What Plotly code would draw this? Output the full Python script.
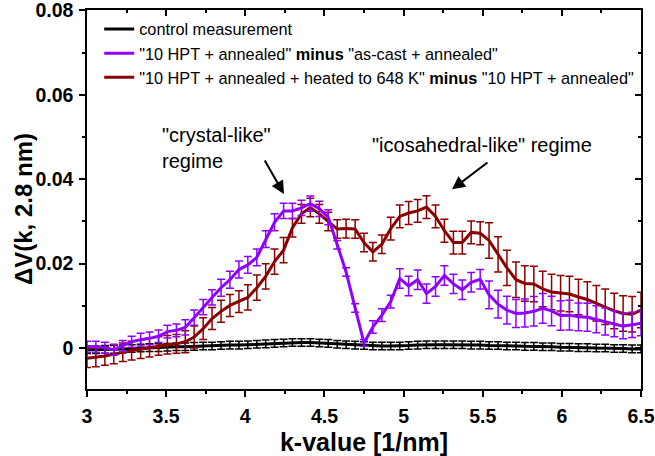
import plotly.graph_objects as go

k_values = [3.000, 3.056, 3.113, 3.169, 3.226, 3.282, 3.339, 3.395, 3.452, 3.508,
            3.565, 3.621, 3.677, 3.734, 3.790, 3.847, 3.903, 3.960, 4.016, 4.073,
            4.129, 4.185, 4.242, 4.298, 4.355, 4.411, 4.468, 4.524, 4.581, 4.637,
            4.694, 4.750, 4.806, 4.863, 4.919, 4.976, 5.032, 5.089, 5.145, 5.202,
            5.258, 5.315, 5.371, 5.427, 5.484, 5.540, 5.597, 5.653, 5.710, 5.766,
            5.823, 5.879, 5.935, 5.992, 6.048, 6.105, 6.161, 6.218, 6.274, 6.331,
            6.387, 6.444, 6.500]

control = [-0.0004, -0.0004, -0.0003, -0.0003, -0.0002, -0.0001, 0.0000, 0.0001, 0.0001, 0.0002,
           0.0003, 0.0003, 0.0004, 0.0005, 0.0005, 0.0006, 0.0007, 0.0007, 0.0008, 0.0009,
           0.0010, 0.0011, 0.0012, 0.0013, 0.0013, 0.0013, 0.0012, 0.0011, 0.0009, 0.0008,
           0.0007, 0.0006, 0.0005, 0.0005, 0.0005, 0.0005, 0.0006, 0.0007, 0.0008, 0.0008,
           0.0008, 0.0008, 0.0008, 0.0007, 0.0007, 0.0006, 0.0006, 0.0005, 0.0005, 0.0004,
           0.0004, 0.0003, 0.0003, 0.0002, 0.0002, 0.0001, 0.0001, 0.0000, 0.0000, -0.0001,
           -0.0001, -0.0002, -0.0002]
control_err = [0.0009] * 63

hpt_minus_cast = [0.0003, 0.0003, 0.0001, -0.0004, 0.0005, 0.0015, 0.0020, 0.0023, 0.0028, 0.0039,
                  0.0042, 0.0049, 0.0072, 0.0097, 0.0120, 0.0143, 0.0162, 0.0186, 0.0197, 0.0215,
                  0.0258, 0.0298, 0.0325, 0.0325, 0.0332, 0.0342, 0.0330, 0.0310, 0.0245, 0.0180,
                  0.0095, 0.0012, 0.0050, 0.0078, 0.0110, 0.0165, 0.0147, 0.0162, 0.0129, 0.0146,
                  0.0172, 0.0152, 0.0138, 0.0156, 0.0163, 0.0126, 0.0104, 0.0090, 0.0082, 0.0083,
                  0.0087, 0.0094, 0.0088, 0.0077, 0.0078, 0.0074, 0.0073, 0.0068, 0.0063, 0.0058,
                  0.0052, 0.0055, 0.0059]
hpt_minus_cast_err = [0.0013, 0.0013, 0.0013, 0.0013, 0.0013, 0.0013, 0.0015, 0.0015, 0.0015, 0.0015,
                      0.0015, 0.0018, 0.0018, 0.0018, 0.0018, 0.0020, 0.0020, 0.0020, 0.0020, 0.0020,
                      0.0020, 0.0020, 0.0018, 0.0018, 0.0018, 0.0018, 0.0018, 0.0018, 0.0010, 0.0010,
                      0.0010, 0.0008, 0.0015, 0.0015, 0.0015, 0.0023, 0.0023, 0.0023, 0.0023, 0.0023,
                      0.0023, 0.0023, 0.0023, 0.0023, 0.0023, 0.0033, 0.0033, 0.0033, 0.0033, 0.0033,
                      0.0035, 0.0035, 0.0035, 0.0035, 0.0035, 0.0033, 0.0033, 0.0032, 0.0032, 0.0031,
                      0.0030, 0.0030, 0.0030]

heated_minus_hpt = [-0.0024, -0.0022, -0.0019, -0.0015, -0.0010, -0.0006, -0.0003, 0.0001, 0.0005, 0.0008,
                    0.0010, 0.0015, 0.0026, 0.0046, 0.0070, 0.0087, 0.0101, 0.0110, 0.0120, 0.0143,
                    0.0170, 0.0205, 0.0232, 0.0285, 0.0318, 0.0333, 0.0318, 0.0300, 0.0282, 0.0283,
                    0.0282, 0.0250, 0.0228, 0.0246, 0.0283, 0.0312, 0.0320, 0.0325, 0.0334, 0.0312,
                    0.0278, 0.0250, 0.0250, 0.0274, 0.0272, 0.0255, 0.0222, 0.0190, 0.0162, 0.0153,
                    0.0152, 0.0140, 0.0133, 0.0130, 0.0128, 0.0121, 0.0115, 0.0106, 0.0098, 0.0088,
                    0.0082, 0.0080, 0.0090]
heated_minus_hpt_err = [0.0022, 0.0022, 0.0022, 0.0022, 0.0022, 0.0022, 0.0022, 0.0022, 0.0022, 0.0022,
                        0.0022, 0.0026, 0.0026, 0.0026, 0.0026, 0.0026, 0.0026, 0.0026, 0.0030, 0.0030,
                        0.0030, 0.0030, 0.0030, 0.0022, 0.0022, 0.0022, 0.0022, 0.0022, 0.0022, 0.0022,
                        0.0022, 0.0022, 0.0022, 0.0022, 0.0027, 0.0027, 0.0027, 0.0027, 0.0027, 0.0027,
                        0.0027, 0.0027, 0.0027, 0.0027, 0.0027, 0.0042, 0.0042, 0.0042, 0.0042, 0.0042,
                        0.0042, 0.0042, 0.0042, 0.0042, 0.0042, 0.0042, 0.0042, 0.0042, 0.0042, 0.0042,
                        0.0042, 0.0042, 0.0042]

names = ["control measurement",
         '"10 HPT + annealed" <b>minus</b> "as-cast + annealed"',
         '"10 HPT + annealed + heated to 648 K" <b>minus</b> "10 HPT + annealed"']

y_tickvals = [0, 0.02, 0.04, 0.06, 0.08]
y_ticktext = ["0", "0.02", "0.04", "0.06", "0.08"]
y_minor = [-0.01, 0.01, 0.03, 0.05, 0.07]

BLACK = "#000000"
PURPLE = "#8f00ff"
BROWN = "#8b0000"
FONT = "Liberation Sans, Arial, sans-serif"

fig = go.Figure()

def add_series(y, err, name, color, rank):
    fig.add_trace(go.Scatter(
        x=k_values, y=y, mode="lines", name=name,
        line=dict(color=color, width=3),
        error_y=dict(type="data", array=err, visible=True, color=color,
                     thickness=1.5, width=4),
        legendrank=rank,
    ))

add_series(control, control_err, names[0], BLACK, 1)
add_series(heated_minus_hpt, heated_minus_hpt_err, names[2], BROWN, 3)
add_series(hpt_minus_cast, hpt_minus_cast_err, names[1], PURPLE, 2)

# empty trace so the mirrored top/right axes (inward ticks) are drawn
fig.add_trace(go.Scatter(x=[None], y=[None], xaxis="x2", yaxis="y2",
                         showlegend=False, hoverinfo="skip"))

XR = [3, 6.5]
YR = [-0.0097, 0.0801]

tickfont = dict(family=FONT, size=19.5, color="black", weight="bold")
common = dict(showgrid=False, zeroline=False, showline=True, linecolor="black", linewidth=1.5,
              tickwidth=1.5, tickcolor="black", automargin=False)

fig.update_layout(
    width=655, height=456,
    margin=dict(l=87, r=14, t=10, b=67),
    paper_bgcolor="white", plot_bgcolor="white",
    font=dict(family=FONT, color="black"),
    showlegend=True,
    legend=dict(x=0.022, y=0.995, xanchor="left", yanchor="top",
                bgcolor="rgba(0,0,0,0)", borderwidth=0,
                font=dict(family=FONT, size=16.3, color="black"),
                traceorder="normal", itemwidth=30),
    xaxis=dict(range=XR, dtick=0.5, tick0=3, ticks="outside", ticklen=6,
               minor=dict(dtick=0.25, ticks="outside", ticklen=3, tickwidth=1.5, tickcolor="black"),
               tickfont=tickfont, ticklabelstandoff=3, ticklabeloverflow="allow",
               title=dict(text="k-value [1/nm]",
                          font=dict(family=FONT, size=25, color="black", weight="bold")),
               **common),
    yaxis=dict(range=YR, tickvals=y_tickvals, ticktext=y_ticktext, ticks="outside", ticklen=6,
               minor=dict(tickvals=y_minor, ticks="outside", ticklen=3, tickwidth=1.5, tickcolor="black"),
               tickfont=tickfont, ticklabelstandoff=2, ticklabeloverflow="allow",
               **common),
    xaxis2=dict(range=XR, overlaying="x", side="top", dtick=0.5, tick0=3,
                ticks="inside", ticklen=6, showticklabels=False,
                minor=dict(dtick=0.25, ticks="inside", ticklen=3, tickwidth=1.5, tickcolor="black"),
                **common),
    yaxis2=dict(range=YR, overlaying="y", side="right", tickvals=y_tickvals,
                ticks="inside", ticklen=6, showticklabels=False,
                minor=dict(tickvals=y_minor, ticks="inside", ticklen=3, tickwidth=1.5, tickcolor="black"),
                **common),
)

# y-axis title (rotated), placed precisely in the left margin
fig.add_annotation(x=-0.1137, y=0.475, xref="paper", yref="paper", text="ΔV(k, 2.8 nm)",
                   textangle=-90, showarrow=False, xanchor="center", yanchor="middle",
                   font=dict(family=FONT, size=24, color="black", weight="bold"))

ann_font = dict(family=FONT, size=20, color="black")
fig.add_annotation(x=3.461, y=0.0474, xref="x", yref="y", text='"crystal-like"<br>regime',
                   showarrow=False, xanchor="left", yanchor="middle", align="left", font=ann_font)
fig.add_annotation(x=4.788, y=0.0482, xref="x", yref="y", text='"icosahedral-like" regime',
                   showarrow=False, xanchor="left", yanchor="middle", align="left", font=ann_font)
fig.add_annotation(x=4.244, y=0.0365, xref="x", yref="y", text="", showarrow=True,
                   ax=-20, ay=-35, arrowhead=2, arrowsize=1.3, arrowwidth=2, arrowcolor="black")
fig.add_annotation(x=5.306, y=0.0376, xref="x", yref="y", text="", showarrow=True,
                   ax=37, ay=-28, arrowhead=2, arrowsize=1.3, arrowwidth=2, arrowcolor="black")

fig.write_html("out.html", config={"displayModeBar": False},
               post_script="document.body.style.margin='0';document.body.style.overflow='hidden';")
